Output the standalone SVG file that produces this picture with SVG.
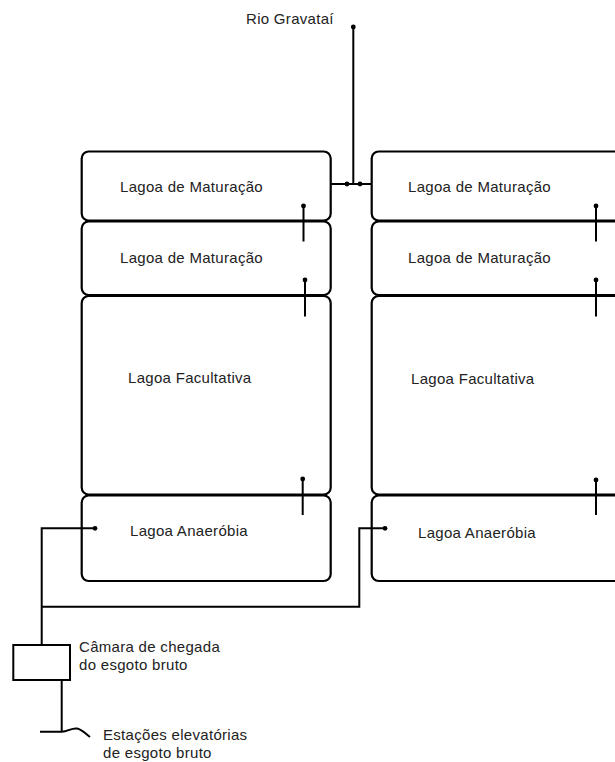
<svg xmlns="http://www.w3.org/2000/svg" width="615" height="762" viewBox="0 0 615 762">
<style>
.pond{fill:#fff;stroke:#000;stroke-width:2.2}
.ln{fill:none;stroke:#000;stroke-width:2}
.ar{fill:none;stroke:#000;stroke-width:2;marker-end:url(#dot)}
text{font-family:"Liberation Sans",Arial,sans-serif;font-size:15px;letter-spacing:0.3px;fill:#222}
</style>
<defs>
<marker id="dot" markerUnits="userSpaceOnUse" markerWidth="8" markerHeight="8" refX="4" refY="4" orient="auto">
<circle cx="4" cy="4" r="2.4" fill="#000"/>
</marker>
</defs>
<rect width="615" height="762" fill="#fff"/>
<g id="left-column">
<g id="L-mat1"><rect class="pond" x="81.7" y="151.5" width="249" height="69" rx="7"/><text x="120" y="192">Lagoa de Maturação</text></g>
<g id="L-mat2"><rect class="pond" x="81.7" y="221.5" width="249" height="73.5" rx="7"/><text x="120" y="263">Lagoa de Maturação</text></g>
<g id="L-fac"><rect class="pond" x="81.7" y="296" width="249" height="198.5" rx="7"/><text x="128" y="383">Lagoa Facultativa</text></g>
<g id="L-ana"><rect class="pond" x="81.7" y="495.5" width="249" height="85.5" rx="7"/><text x="130" y="536">Lagoa Anaeróbia</text></g>
</g>
<g id="right-column">
<g id="R-mat1"><rect class="pond" x="371.7" y="151.5" width="280" height="69" rx="7"/><text x="408" y="192">Lagoa de Maturação</text></g>
<g id="R-mat2"><rect class="pond" x="371.7" y="221.5" width="280" height="73.5" rx="7"/><text x="408" y="263">Lagoa de Maturação</text></g>
<g id="R-fac"><rect class="pond" x="371.7" y="296" width="280" height="198.5" rx="7"/><text x="411" y="384">Lagoa Facultativa</text></g>
<g id="R-ana"><rect class="pond" x="371.7" y="495.5" width="280" height="85.5" rx="7"/><text x="418" y="538">Lagoa Anaeróbia</text></g>
</g>
<g id="camara"><rect class="ln" x="13.3" y="645" width="56.7" height="35"/><text x="79" y="651.5">Câmara de chegada</text><text x="79" y="670">do esgoto bruto</text></g>
<g id="estacoes"><text x="103" y="740">Estações elevatórias</text><text x="103" y="757.5">de esgoto bruto</text></g>
<g id="rio"><text x="246" y="24">Rio Gravataí</text></g>
<g id="connectors">
<line class="ar" x1="303.5" y1="241.5" x2="303.5" y2="206"/>
<line class="ar" x1="305" y1="316.5" x2="305" y2="280"/>
<line class="ar" x1="302.7" y1="515" x2="302.7" y2="479"/>
<line class="ar" x1="596" y1="241.5" x2="596" y2="206"/>
<line class="ar" x1="596" y1="316.5" x2="596" y2="280"/>
<line class="ar" x1="596" y1="515" x2="596" y2="480"/>
<line class="ln" x1="330.7" y1="184" x2="371.7" y2="184"/>
<line class="ar" x1="330.7" y1="184" x2="347" y2="184"/>
<line class="ar" x1="371.7" y1="184" x2="360" y2="184"/>
<line class="ar" x1="353.3" y1="184" x2="353.3" y2="27"/>
<path class="ar" d="M41.7,645 V528.3 H95"/>
<path class="ar" d="M41.7,606.7 H359.3 V528.3 H385"/>
<line class="ln" x1="61.7" y1="680" x2="61.7" y2="731.7"/>
<path class="ln" d="M40,731.7 H61.7 C68,731.5 72,727.5 77,728.5 C82,729.5 86,734 90,737"/>
</g>
</svg>
